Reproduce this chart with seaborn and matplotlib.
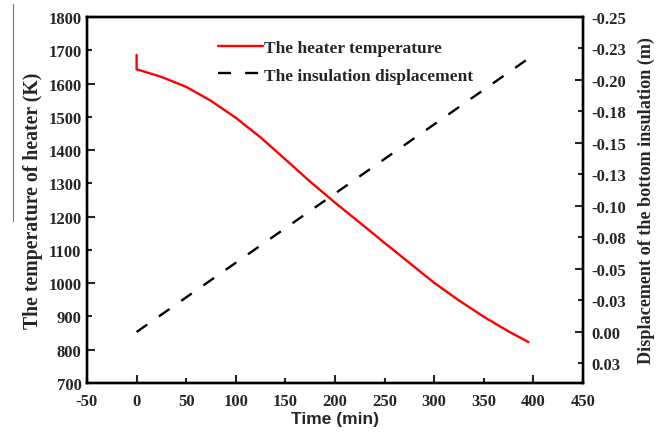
import matplotlib
matplotlib.use("Agg")
import matplotlib.pyplot as plt
from matplotlib.lines import Line2D
import seaborn as sns
import pandas as pd

# ---- data ----
time_heater = [0, 0, 25, 50, 75, 100, 125, 150, 175, 200, 225, 250, 275, 300, 325, 350, 375, 395]
temp_heater = [1686, 1643, 1620, 1590, 1548, 1497, 1438, 1372, 1305, 1242, 1182, 1121, 1061, 1001, 948, 899, 855, 823]
time_disp = [0, 395]
disp = [0.0, -0.217]

x_ticks = [-50, 0, 50, 100, 150, 200, 250, 300, 350, 400, 450]
left_ticks = [700, 800, 900, 1000, 1100, 1200, 1300, 1400, 1500, 1600, 1700, 1800]
right_ticks = [-0.25, -0.225, -0.2, -0.175, -0.15, -0.125, -0.1, -0.075, -0.05, -0.025, 0.0, 0.025]
right_tick_labels = ["-0.25", "-0.23", "-0.20", "-0.18", "-0.15", "-0.13", "-0.10", "-0.08",
                     "-0.05", "-0.03", "0.00", "0.03"]

df_h = pd.DataFrame({"t": time_heater, "T": temp_heater})
df_d = pd.DataFrame({"t": time_disp, "d": disp})

sns.set_style("ticks")
plt.rcParams["font.family"] = ["Liberation Serif", "DejaVu Serif"]
plt.rcParams["font.weight"] = "bold"

fig = plt.figure(figsize=(6.66, 4.39), dpi=100)
ax = fig.add_axes([87 / 666, 1 - 384 / 439, (583 - 87) / 666, (384 - 18) / 439])
ax2 = ax.twinx()

sns.lineplot(data=df_h, x="t", y="T", ax=ax, color="#ff0000", lw=1.7,
             estimator=None, sort=False, label="The heater temperature", legend=False)
sns.lineplot(data=df_d, x="t", y="d", ax=ax2, color="black", lw=1.7,
             estimator=None, sort=False, label="The insulation displacement", legend=False)
ax2.lines[0].set_dashes([5.5, 6.0])
ax.lines[0].set_solid_joinstyle("round")

ax.set_xlim(-50, 450)
ax.set_ylim(700, 1800)
ax2.set_ylim(0.0405, -0.25)

tick_font = dict(family=["Liberation Serif"], weight="bold", size=12)

ax.set_xticks([t for t in x_ticks if t % 100 == 0])
ax.set_xticklabels([str(t) for t in x_ticks if t % 100 == 0], **tick_font)
ax.set_xticks(x_ticks, minor=True)
ax.set_xticklabels([str(t) if t % 100 != 0 else "" for t in x_ticks], minor=True, **tick_font)

ax.set_yticks([v for v in left_ticks if v % 200 == 0])
ax.set_yticklabels([str(v) for v in left_ticks if v % 200 == 0], **tick_font)
ax.set_yticks(left_ticks, minor=True)
ax.set_yticklabels([str(v) if v % 200 != 0 else "" for v in left_ticks], minor=True, **tick_font)

maj_idx = [i for i in range(len(right_ticks)) if i % 2 == 0]
ax2.set_yticks([right_ticks[i] for i in maj_idx])
ax2.set_yticklabels([right_tick_labels[i] for i in maj_idx], **tick_font)
ax2.set_yticks(right_ticks, minor=True)
ax2.set_yticklabels([lab if i % 2 == 1 else "" for i, lab in enumerate(right_tick_labels)],
                    minor=True, **tick_font)

for a in (ax, ax2):
    a.tick_params(which="major", direction="in", length=6, width=1.5)
    a.tick_params(which="minor", direction="in", length=3.5, width=1.5)
    for s in a.spines.values():
        s.set_linewidth(1.7)
        s.set_color("black")
ax.tick_params(which="both", top=False, right=False)
ax.tick_params(axis="x", which="both", pad=7)
ax.tick_params(axis="y", which="both", pad=4)
ax2.tick_params(which="both", left=False, right=True, pad=6)

ax.set_xlabel("Time (min)", family=["Liberation Sans"], weight="bold", size=12.5, labelpad=2)
ax.set_ylabel("The temperature of heater (K)", family=["Liberation Serif"], weight="bold",
              size=14.2, labelpad=4)
ax2.set_ylabel("Displacement of the bottom insulation (m)", family=["Liberation Serif"], weight="bold",
               size=13.1, labelpad=8)

h1 = ax.lines[0]
h2 = ax2.lines[0]
leg = ax.legend([h1, h2], [h1.get_label(), h2.get_label()], loc="upper left",
                bbox_to_anchor=(0.232, 0.98), frameon=False, handlelength=2.6, handletextpad=0.05,
                labelspacing=0.65, prop=dict(family="Liberation Serif", weight="bold", size=12.5))

fig.add_artist(Line2D([13 / 666, 13 / 666], [1 - 5 / 439, 1 - 222 / 439], color="#777777", lw=0.8))

fig.savefig("out.png", dpi=100)
